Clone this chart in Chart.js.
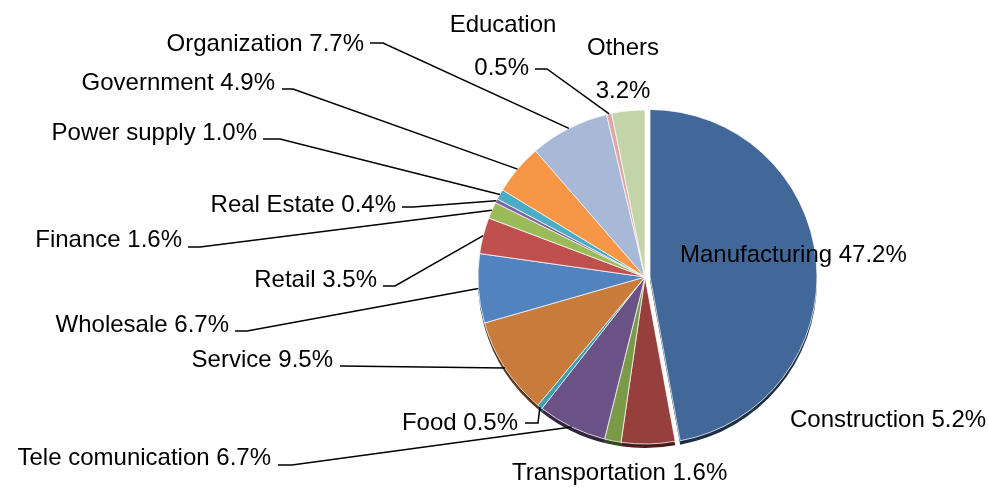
<!DOCTYPE html>
<html>
<head>
<meta charset="utf-8">
<script src="https://cdn.jsdelivr.net/npm/chart.js@4.4.1/dist/chart.umd.min.js"></script>
<style>
  html, body { margin: 0; padding: 0; background: #fff; }
  #wrap { width: 988px; height: 489px; }
</style>
</head>
<body>
<div id="wrap"><canvas id="pieChart" width="988" height="489"></canvas></div>
<script>
// industries, clockwise from 12 o'clock
var categories = ['Manufacturing', 'Construction', 'Transportation', 'Tele comunication', 'Food',
    'Service', 'Wholesale', 'Retail', 'Finance', 'Real Estate', 'Power supply', 'Government',
    'Organization', 'Education', 'Others'];
var shares = [47.2, 5.2, 1.6, 6.7, 0.5, 9.5, 6.7, 3.5, 1.6, 0.4, 1.0, 4.9, 7.7, 0.5, 3.2];
var colors = ['#416899', '#973f3d', '#7a9a47', '#6a5286', '#3c9fb8', '#c97b3b', '#5283bf',
    '#c0504d', '#9bbb59', '#8064a2', '#4bacc6', '#f79646', '#a8b9d7', '#dfa8a7', '#c4d4a9'];

// where each label sits (baseline) and the elbow of its leader line
var labelLayout = [
    { x: 680, y: 262, align: 'left' },
    { x: 790, y: 427, align: 'left' },
    { x: 512, y: 480, align: 'left' },
    { x: 271, y: 465, align: 'right', line: [[278, 465], [292, 465]] },
    { x: 518, y: 430, align: 'right', line: [[525, 423], [538, 423]] },
    { x: 333, y: 367, align: 'right', line: [[340, 366]] },
    { x: 229, y: 332, align: 'right', line: [[235, 331], [247, 331]] },
    { x: 377, y: 287, align: 'right', line: [[383, 286], [395, 286]] },
    { x: 182, y: 247, align: 'right', line: [[188, 247], [200, 247]] },
    { x: 396, y: 212, align: 'right', line: [[402, 207], [413, 207]] },
    { x: 257, y: 140, align: 'right', line: [[263, 139], [280, 139]] },
    { x: 275, y: 90, align: 'right', line: [[282, 89], [293, 89]] },
    { x: 364, y: 51, align: 'right', line: [[370, 43], [383, 43]] },
    { x: 529, y: 75, align: 'right', nameX: 503, nameY: 32, line: [[535, 69], [547, 69]] },
    { x: 623, y: 98, align: 'center', nameX: 623, nameY: 55 }
];

var EXPLODE = 5;
var DEPTH = 4;

function shade(hex, f) {
    var n = parseInt(hex.slice(1), 16);
    var r = Math.round(((n >> 16) & 255) * f), g = Math.round(((n >> 8) & 255) * f), b = Math.round((n & 255) * f);
    return 'rgb(' + r + ',' + g + ',' + b + ')';
}

var explodeFirst = {
    id: 'explodeFirst',
    afterDatasetsUpdate: function (chart) {
        var arc = chart.getDatasetMeta(0).data[0];
        if (!arc || arc._exploded) return;
        var orig = arc.draw;
        arc.draw = function (ctx) {
            var mid = (this.startAngle + this.endAngle) / 2;
            ctx.save();
            ctx.translate(Math.cos(mid) * EXPLODE, Math.sin(mid) * EXPLODE);
            orig.call(this, ctx);
            ctx.restore();
        };
        arc._exploded = true;
    }
};

// darker rim under the pie, a touch of 3D
var pieRim = {
    id: 'pieRim',
    beforeDatasetsDraw: function (chart) {
        var ctx = chart.ctx;
        var arcs = chart.getDatasetMeta(0).data;
        ctx.save();
        arcs.forEach(function (a, i) {
            var mid = (a.startAngle + a.endAngle) / 2;
            var dx = i === 0 ? Math.cos(mid) * EXPLODE : 0;
            var dy = i === 0 ? Math.sin(mid) * EXPLODE : 0;
            ctx.beginPath();
            ctx.moveTo(a.x + dx, a.y + dy + DEPTH);
            ctx.arc(a.x + dx, a.y + dy + DEPTH, a.outerRadius, a.startAngle, a.endAngle);
            ctx.closePath();
            ctx.fillStyle = shade(colors[i], 0.45);
            ctx.fill();
        });
        ctx.restore();
    }
};

var pieLabels = {
    id: 'pieLabels',
    afterDatasetsDraw: function (chart) {
        var ctx = chart.ctx;
        var arcs = chart.getDatasetMeta(0).data;
        ctx.save();
        ctx.font = '24px "Liberation Sans", Arial, sans-serif';
        ctx.fillStyle = '#000';
        ctx.strokeStyle = '#000';
        ctx.lineWidth = 1.5;
        ctx.textBaseline = 'alphabetic';
        labelLayout.forEach(function (lay, i) {
            var value = shares[i].toFixed(1) + '%';
            if (lay.nameX !== undefined) {
                ctx.textAlign = 'center';
                ctx.fillText(categories[i], lay.nameX, lay.nameY);
                ctx.textAlign = lay.align;
                ctx.fillText(value, lay.x, lay.y);
            } else {
                ctx.textAlign = lay.align;
                ctx.fillText(categories[i] + ' ' + value, lay.x, lay.y);
            }
            if (lay.line) {
                var a = arcs[i];
                var mid = (a.startAngle + a.endAngle) / 2;
                var ex = a.x + Math.cos(mid) * a.outerRadius;
                var ey = a.y + Math.sin(mid) * a.outerRadius;
                ctx.beginPath();
                ctx.moveTo(lay.line[0][0], lay.line[0][1]);
                for (var k = 1; k < lay.line.length; k++) ctx.lineTo(lay.line[k][0], lay.line[k][1]);
                ctx.lineTo(ex, ey);
                ctx.stroke();
            }
        });
        ctx.restore();
    }
};

document.addEventListener('DOMContentLoaded', function () {
    var ctx = document.getElementById('pieChart').getContext('2d');
    new Chart(ctx, {
        type: 'pie',
        data: {
            labels: categories,
            datasets: [{
                data: shares,
                backgroundColor: colors,
                borderColor: 'rgba(255,255,255,0.75)',
                borderWidth: 1
            }]
        },
        options: {
            responsive: false,
            animation: false,
            radius: 167,
            layout: { padding: { left: 478, right: 176, top: 110, bottom: 45 } },
            plugins: {
                legend: { display: false },
                tooltip: { enabled: false }
            }
        },
        plugins: [explodeFirst, pieRim, pieLabels]
    });
});
</script>
</body>
</html>
